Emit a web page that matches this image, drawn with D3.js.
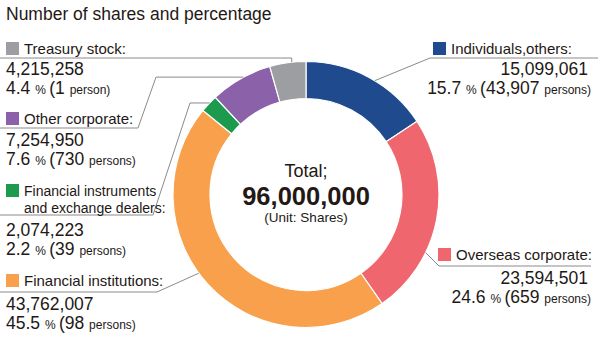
<!DOCTYPE html>
<html>
<head>
<meta charset="utf-8">
<script src="https://cdn.jsdelivr.net/npm/d3@7"></script>
<style>
  body { margin: 0; background: #fff; }
  text { font-family: "Liberation Sans", Arial, sans-serif; fill: #231815; }
</style>
</head>
<body>
<div id="chart"></div>
<script>
// Data (clockwise from 12 o'clock)
const categories = ["Individuals,others:", "Overseas corporate:", "Financial institutions:",
  "Financial instruments|and exchange dealers:", "Other corporate:", "Treasury stock:"];
const shares = [15099061, 23594501, 43762007, 2074223, 7254950, 4215258];
const percents = [15.7, 24.6, 45.5, 2.2, 7.6, 4.4];
const persons = [43907, 659, 98, 39, 730, 1];
const colors = ["#1f4b8e", "#f0666f", "#f8a04b", "#1c9a4e", "#8b62a9", "#9d9ea1"];
const total = 96000000;

const width = 600, height = 351;
const cx = 306, cy = 194.5, outerR = 133, innerR = 96;

const svg = d3.select("#chart")
  .append("svg")
  .attr("width", width)
  .attr("height", height);

// Title
svg.append("text")
  .attr("x", 6)
  .attr("y", 20)
  .attr("font-size", "17.5px")
  .text("Number of shares and percentage");

// Donut
const pie = d3.pie().sort(null).value(d => d);
const arcs = pie(shares);
const arc = d3.arc().innerRadius(innerR).outerRadius(outerR);

const g = svg.append("g").attr("transform", `translate(${cx},${cy})`);
g.selectAll("path")
  .data(arcs)
  .join("path")
  .attr("d", arc)
  .attr("fill", (d, i) => colors[i])
  .attr("stroke", "#fff")
  .attr("stroke-width", 1.2);

// Centre text
g.append("text").attr("text-anchor", "middle").attr("y", -17.5).attr("font-size", "18px").text("Total;");
g.append("text").attr("text-anchor", "middle").attr("y", 10).attr("font-size", "25.5px")
  .attr("font-weight", "bold").text(d3.format(",")(total));
g.append("text").attr("text-anchor", "middle").attr("y", 27.5).attr("font-size", "13.5px").text("(Unit: Shares)");

// Label layout: name position, underline, value rows, leader elbows
const layout = [
  { side: "right", nameY: 54, lineY: 58, valY: 75, pctY: 94, t: 0.55, knees: [[430, 58]], lineEnd: 598 },
  { side: "right", nameY: 260, lineY: 266, valY: 284, pctY: 303, t: 0.67, knees: [[439, 266]], lineEnd: 591 },
  { side: "left", nameY: 286, lineY: 292, valY: 310, pctY: 329, t: 0.54, knees: [[157, 292]] },
  { side: "left", nameY: 196, lineY: 215, valY: 236, pctY: 255, t: 0.55, knees: [[190, null], [153, 215]] },
  { side: "left", nameY: 124, lineY: 128, valY: 146, pctY: 165, t: 0.55, knees: [[156, null], [138, 128]] },
  { side: "left", nameY: 54, lineY: 58, valY: 75, pctY: 94, t: 0.61, knees: [[null, 58]] }
];

const line = d3.line();
const fmt = d3.format(",");

arcs.forEach((a, i) => {
  const L = layout[i];
  // leader starts on the outer edge of the slice
  const ang = a.startAngle + L.t * (a.endAngle - a.startAngle);
  const p = [cx + outerR * Math.sin(ang), cy - outerR * Math.cos(ang)];
  const pts = [p];
  L.knees.forEach(k => pts.push([k[0] === null ? p[0] : k[0], k[1] === null ? p[1] : k[1]]));
  pts.push([L.side === "left" ? 0 : L.lineEnd, L.lineY]);

  svg.append("path")
    .attr("d", line(pts))
    .attr("fill", "none")
    .attr("stroke", "#8a8a8a")
    .attr("stroke-width", 1);

  const nameLines = categories[i].split("|");
  const nameSize = nameLines.length > 1 ? 14 : 15;

  let sqX, nameX, anchorX, anchor;
  if (L.side === "left") {
    sqX = 6; nameX = 24; anchorX = 6; anchor = "start";
  } else {
    sqX = i === 0 ? 433 : 438; nameX = sqX + 18; anchorX = 588; anchor = "end";
  }

  svg.append("rect")
    .attr("x", sqX)
    .attr("y", L.nameY - 12)
    .attr("width", 13)
    .attr("height", 13)
    .attr("fill", colors[i]);

  const nt = svg.append("text")
    .attr("x", nameX)
    .attr("y", L.nameY)
    .attr("font-size", nameSize + "px");
  nameLines.forEach((s, j) => {
    nt.append("tspan").attr("x", nameX).attr("dy", j === 0 ? 0 : 17).text(s);
  });

  svg.append("text")
    .attr("x", anchorX)
    .attr("y", L.valY)
    .attr("text-anchor", anchor)
    .attr("font-size", "17.5px")
    .text(fmt(shares[i]));

  const pt = svg.append("text")
    .attr("x", L.side === "left" ? anchorX : 591)
    .attr("y", L.pctY)
    .attr("text-anchor", anchor)
    .attr("font-size", "17.5px");
  pt.append("tspan").text(percents[i].toFixed(1) + " ");
  pt.append("tspan").attr("font-size", "12px").text("% ");
  pt.append("tspan").text("(" + fmt(persons[i]) + " ");
  pt.append("tspan").attr("font-size", "12px").text((persons[i] === 1 ? "person" : "persons") + ")");
});
</script>
</body>
</html>
